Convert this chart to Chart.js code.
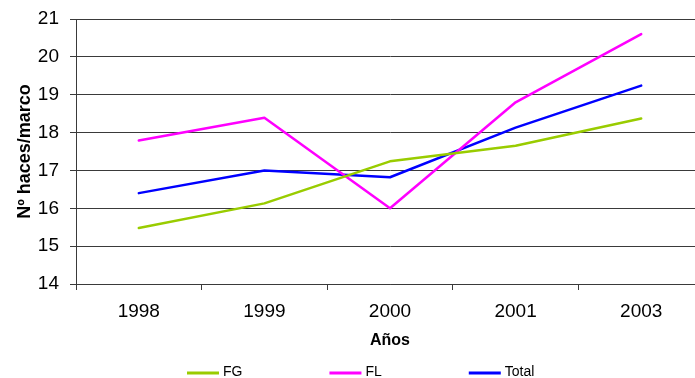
<!DOCTYPE html>
<html>
<head>
<meta charset="utf-8">
<script src="https://cdn.jsdelivr.net/npm/chart.js@4/dist/chart.umd.min.js"></script>
<style>
  html, body { margin: 0; padding: 0; background: #fff; overflow: hidden; }
  #wrap { width: 706px; height: 378px; position: relative; }
</style>
</head>
<body>
<div id="wrap"><canvas id="c" width="706" height="378"></canvas></div>
<script>
const categories = ['1998', '1999', '2000', '2001', '2003'];
const seriesNames = ['FG', 'FL', 'Total'];
const fgValues = [15.48, 16.13, 17.24, 17.65, 18.37];
const flValues = [17.79, 18.39, 16.00, 18.80, 20.60];
const totalValues = [16.40, 17.00, 16.82, 18.13, 19.24];
const yTitle = 'Nº haces/marco';
const xTitle = 'Años';
const yMin = 14, yMax = 21, yStep = 1;

const FONT = '"Liberation Sans", Arial, sans-serif';
const GRID = '#3a3a3a';

const lineLegend = {
  id: 'lineLegend',
  afterDraw(chart, args, opts) {
    const ctx = chart.ctx;
    ctx.save();
    ctx.font = opts.fontSize + 'px ' + FONT;
    ctx.textBaseline = 'middle';
    ctx.textAlign = 'left';
    let x = opts.startX;
    const y = opts.y;
    chart.data.datasets.forEach(ds => {
      ctx.strokeStyle = ds.borderColor;
      ctx.lineWidth = 3;
      ctx.beginPath();
      ctx.moveTo(x, y);
      ctx.lineTo(x + opts.lineW, y);
      ctx.stroke();
      ctx.fillStyle = '#000';
      const tx = x + opts.lineW + opts.textGap;
      ctx.fillText(ds.label, tx, y - 1);
      x = tx + ctx.measureText(ds.label).width + opts.itemGap;
    });
    ctx.restore();
  }
};

new Chart(document.getElementById('c'), {
  type: 'line',
  data: {
    labels: categories,
    datasets: [
      { label: seriesNames[0], data: fgValues, borderColor: '#99CC00', backgroundColor: '#99CC00' },
      { label: seriesNames[1], data: flValues, borderColor: '#FF00FF', backgroundColor: '#FF00FF' },
      { label: seriesNames[2], data: totalValues, borderColor: '#0000FF', backgroundColor: '#0000FF' }
    ]
  },
  options: {
    responsive: false,
    animation: false,
    devicePixelRatio: 1,
    layout: { padding: { top: 19, right: 2, bottom: 28, left: 0 } },
    elements: {
      point: { radius: 0, hoverRadius: 0 },
      line: { borderWidth: 2.5, tension: 0, borderCapStyle: 'round', borderJoinStyle: 'round' }
    },
    plugins: {
      legend: { display: false },
      tooltip: { enabled: false },
      lineLegend: { startX: 187, y: 373, lineW: 32, textGap: 4, itemGap: 87, fontSize: 14 }
    },
    scales: {
      x: {
        offset: true,
        grid: { offset: true, drawOnChartArea: false, drawTicks: true, tickLength: 6, color: GRID },
        border: { display: true, color: GRID, width: 1 },
        ticks: { color: '#000', font: { family: FONT, size: 19 }, padding: 10, maxRotation: 0 },
        title: { display: true, text: xTitle, color: '#000', font: { family: FONT, size: 16, weight: 'bold' }, padding: { top: 0, bottom: 0 } },
        afterFit(s) { s.height = 66; s.paddingLeft = 0; s.paddingRight = 0; }
      },
      y: {
        min: yMin, max: yMax,
        grid: { color: GRID, tickLength: 6, drawTicks: true },
        border: { display: true, color: GRID, width: 1 },
        ticks: { stepSize: yStep, color: '#000', font: { family: FONT, size: 19 }, padding: 11 },
        title: { display: true, text: yTitle, color: '#000', font: { family: FONT, size: 18, weight: 'bold' }, padding: { top: 14, bottom: 0 } },
        afterFit(s) { s.width = 76; s.paddingTop = 0; s.paddingBottom = 0; }
      }
    }
  },
  plugins: [lineLegend]
});
</script>
</body>
</html>
